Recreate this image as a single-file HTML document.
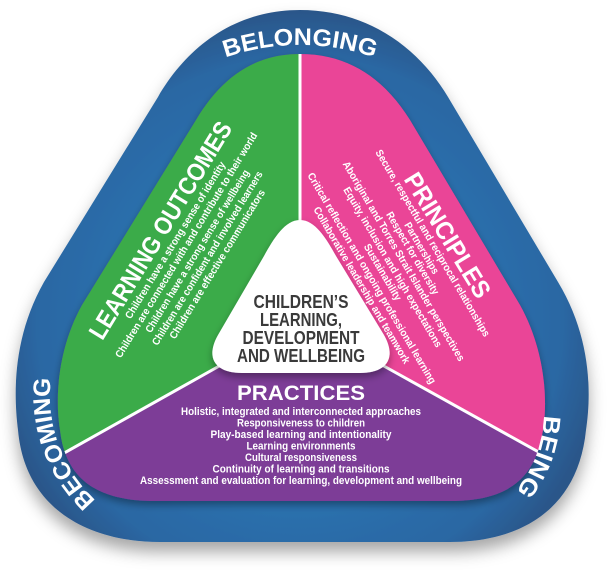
<!DOCTYPE html>
<html><head><meta charset="utf-8"><style>
html,body{margin:0;padding:0;background:#fff;width:607px;height:574px;overflow:hidden}
svg{display:block}
text{font-family:"Liberation Sans",sans-serif;font-weight:bold}
</style></head><body>
<svg width="607" height="574" viewBox="0 0 607 574" xmlns="http://www.w3.org/2000/svg">
<defs>
<filter id="sh" x="-10%" y="-10%" width="120%" height="130%">
<feDropShadow dx="0" dy="10" stdDeviation="8" flood-color="#000" flood-opacity="0.35"/>
</filter>
<filter id="ish" x="-10%" y="-10%" width="120%" height="130%">
<feDropShadow dx="0" dy="4" stdDeviation="4" flood-color="#000" flood-opacity="0.35"/>
</filter>
<radialGradient id="bg" cx="300" cy="320" r="310" gradientUnits="userSpaceOnUse">
<stop offset="0.6" stop-color="#2a70ad"/>
<stop offset="0.85" stop-color="#2b67a3"/>
<stop offset="1" stop-color="#2c5689"/>
</radialGradient>
<clipPath id="inner">
<path d="M300 54 C350 54 385 80 410 120 L520 305 C545 350 548 400 543 430 C535 485 500 501 450 501 L155 501 C105 501 66 485 60 430 C55 400 57 350 82 305 L196 120 C220 80 252 54 300 54 Z"/>
</clipPath>
<path id="arcTop" d="M72 273 A228 228 0 0 1 528 273"/>
<path id="arcL" d="M102 506 A145 145 0 0 1 52 370"/>
<path id="arcR" d="M544 411 A125 125 0 0 1 513 494"/>
</defs>

<path filter="url(#sh)" fill="url(#bg)" d="M300 10 C370 10 420 50 448 97 L558 282 C590 335 592 390 586 430 C578 510 520 542 450 542 L160 542 C90 542 25 510 18 430 C13 390 14 335 44 282 L158 97 C185 50 232 10 300 10 Z"/>

<g filter="url(#ish)">
<g clip-path="url(#inner)">
<rect x="0" y="0" width="607" height="574" fill="#7d3c97"/>
<polygon points="0,0 300,0 300,300 220,366 0,489" fill="#3aab4a"/>
<polygon points="300,0 607,0 607,490 383,366 300,300" fill="#ea4497"/>
<line x1="300" y1="40" x2="300" y2="260" stroke="#fff" stroke-width="3"/>
<line x1="230" y1="360" x2="0" y2="489" stroke="#fff" stroke-width="3"/>
<line x1="373" y1="360" x2="607" y2="490" stroke="#fff" stroke-width="3"/>
</g>
</g>

<path filter="url(#ish)" fill="#fff" d="M300 220 C315 220 326 238 336 256 L384 335 C397 358 387 373 360 373 L242 373 C215 373 205 358 218 335 L264 256 C274 238 285 220 300 220 Z"/>

<g fill="#3a3a3a" text-anchor="middle" font-size="18">
<text x="301" y="308" textLength="95" lengthAdjust="spacingAndGlyphs">CHILDREN’S</text>
<text x="301" y="326" textLength="82" lengthAdjust="spacingAndGlyphs">LEARNING,</text>
<text x="301" y="344" textLength="117" lengthAdjust="spacingAndGlyphs">DEVELOPMENT</text>
<text x="301" y="362" textLength="128" lengthAdjust="spacingAndGlyphs">AND WELLBEING</text>
</g>

<g fill="#fff" text-anchor="middle">
<text x="301" y="400" font-size="21" textLength="128" lengthAdjust="spacingAndGlyphs">PRACTICES</text>
<g font-size="11">
<text x="301" y="415" textLength="240" lengthAdjust="spacingAndGlyphs">Holistic, integrated and interconnected approaches</text>
<text x="301" y="426.5" textLength="128" lengthAdjust="spacingAndGlyphs">Responsiveness to children</text>
<text x="301" y="438" textLength="181" lengthAdjust="spacingAndGlyphs">Play-based learning and intentionality</text>
<text x="301" y="449.5" textLength="109" lengthAdjust="spacingAndGlyphs">Learning environments</text>
<text x="301" y="461" textLength="112" lengthAdjust="spacingAndGlyphs">Cultural responsiveness</text>
<text x="301" y="472.5" textLength="177" lengthAdjust="spacingAndGlyphs">Continuity of learning and transitions</text>
<text x="301" y="484" textLength="322" lengthAdjust="spacingAndGlyphs">Assessment and evaluation for learning, development and wellbeing</text>
</g>

<text transform="translate(160 230) rotate(-58.5)" dy="0.36em" font-size="25" textLength="250" lengthAdjust="spacingAndGlyphs">LEARNING OUTCOMES</text>
<g font-size="10.5">
<text transform="translate(175 240) rotate(-58.5)" dy="0.36em" textLength="182" lengthAdjust="spacingAndGlyphs">Children have a strong sense of identity</text>
<text transform="translate(186 245) rotate(-58.5)" dy="0.36em" textLength="262" lengthAdjust="spacingAndGlyphs">Children are connected with and contribute to their world</text>
<text transform="translate(197 251) rotate(-58.5)" dy="0.36em" textLength="189" lengthAdjust="spacingAndGlyphs">Children have a strong sense of wellbeing</text>
<text transform="translate(207 258) rotate(-58.5)" dy="0.36em" textLength="202" lengthAdjust="spacingAndGlyphs">Children are confident and involved learners</text>
<text transform="translate(217 264) rotate(-58.5)" dy="0.36em" textLength="173" lengthAdjust="spacingAndGlyphs">Children are effective communicators</text>
</g>

<text transform="translate(448 235) rotate(58.5)" dy="0.36em" font-size="25" textLength="142" lengthAdjust="spacingAndGlyphs">PRINCIPLES</text>
<g font-size="10.5">
<text transform="translate(433 243) rotate(59.5)" dy="0.36em" textLength="215" lengthAdjust="spacingAndGlyphs">Secure, respectful and reciprocal relationships</text>
<text transform="translate(422 248) rotate(59.5)" dy="0.36em" textLength="58" lengthAdjust="spacingAndGlyphs">Partnerships</text>
<text transform="translate(413 253) rotate(59.5)" dy="0.36em" textLength="94" lengthAdjust="spacingAndGlyphs">Respect for diversity</text>
<text transform="translate(404 261) rotate(59.5)" dy="0.36em" textLength="230" lengthAdjust="spacingAndGlyphs">Aboriginal and Torres Strait Islander perspectives</text>
<text transform="translate(393 267) rotate(59.5)" dy="0.36em" textLength="184" lengthAdjust="spacingAndGlyphs">Equity, inclusion and high expectations</text>
<text transform="translate(383 272) rotate(59.5)" dy="0.36em" textLength="64" lengthAdjust="spacingAndGlyphs">Sustainability</text>
<text transform="translate(372 278) rotate(59.5)" dy="0.36em" textLength="243" lengthAdjust="spacingAndGlyphs">Critical reflection and ongoing professional learning</text>
<text transform="translate(362 285) rotate(59.5)" dy="0.36em" textLength="180" lengthAdjust="spacingAndGlyphs">Collaborative leadership and teamwork</text>
</g>
</g>

<g fill="#fff" font-size="24">
<text><textPath href="#arcTop" startOffset="50%" text-anchor="middle" textLength="152" lengthAdjust="spacingAndGlyphs">BELONGING</textPath></text>
<text><textPath href="#arcL" startOffset="50%" text-anchor="middle" textLength="135" lengthAdjust="spacingAndGlyphs">BECOMING</textPath></text>
<text><textPath href="#arcR" startOffset="50%" text-anchor="middle" textLength="82" lengthAdjust="spacingAndGlyphs">BEING</textPath></text>
</g>
</svg>
</body></html>
